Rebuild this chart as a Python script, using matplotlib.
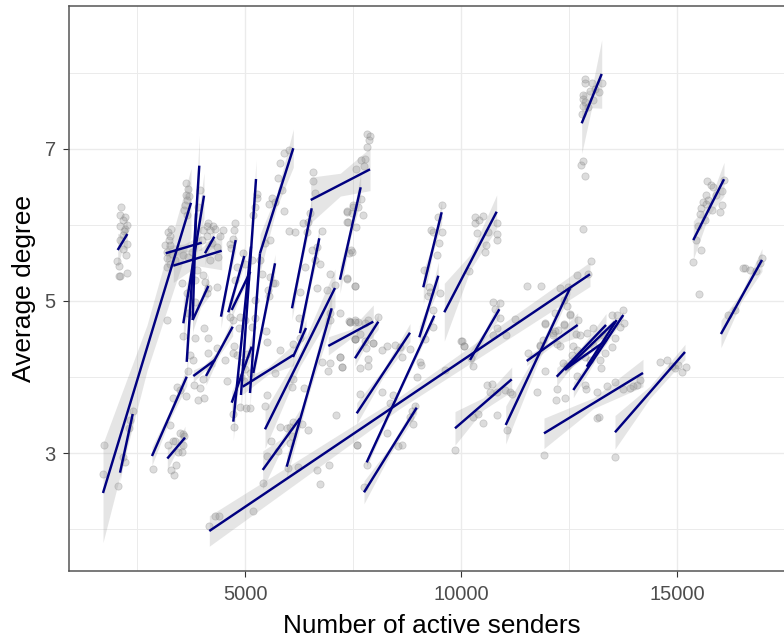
import numpy as np
import matplotlib
matplotlib.use('Agg')
import matplotlib.pyplot as plt

plt.rcParams['font.family'] = ['Liberation Sans', 'DejaVu Sans']

# points, grouped by area (active senders, average degree)
pts_far_left = [(2131,6.23),(2100,6.13),(2216,6.10),(2177,6.06),(2254,6.0),(2100,5.98),(2216,5.95),(2200,5.92),
    (2177,5.87),(2100,5.8),(2254,5.75),(2177,5.68),(2240,5.61),(2038,5.53),(2077,5.46),(2085,5.33),(2254,5.37),(2110,5.33)]
pts_peak_4000 = [(3628,6.55),(3682,6.47),(3628,6.39),(3705,6.38),(3658,6.33),(3605,6.26),(3581,6.2),(3643,6.13),
    (3952,6.46),(3913,6.24),(3280,5.95),(3219,5.91),(3257,5.85),(3242,5.80),(3142,5.73),(3257,5.74),(3196,5.65),
    (3296,5.62),(3180,5.56),(3257,5.49),(3180,5.45),(3373,5.54),(3566,5.60),(3682,5.58),(3759,5.65),(4145,6.02),
    (4106,5.98),(4260,5.98),(4183,5.93),(4029,5.93),(4299,5.95),(4476,5.93),(4415,5.85),(4106,5.85),(3990,5.80),
    (4222,5.76),(4338,5.71),(4376,5.58),(4183,5.54),(4029,5.34),(4067,5.25),(3875,5.41),(3836,5.28),(3527,5.23),
    (3643,5.10),(3836,4.99),(4145,5.17),(4338,5.19),(4106,5.10),(3196,4.75),(4044,4.65),(4145,4.52),(3836,4.52),
    (3550,4.54),(3682,4.84)]
pts_low_left = [(1729,3.11),(1699,2.73),(2046,2.57),(2408,3.55),(2331,3.44),(2316,3.33),(2216,2.88),(2177,2.95),
    (2856,2.79),(3257,3.37),(3219,3.11),(3334,3.16),(3373,3.16),(3280,2.78),(3404,2.84),(3342,2.71),(3489,3.26),
    (3550,3.25),(3581,3.22),(3566,3.11),(3527,3.02),(3450,3.02),(3319,3.73),(3427,3.87),(3489,3.83),(3628,3.75),
    (3898,3.70),(4044,3.72),(3813,3.90),(3952,3.86),(3666,4.08),(4013,3.97),(3797,4.22),(3720,4.29),(4145,4.31),
    (4338,4.38),(4530,4.22),(4569,3.95),(4723,4.31),(4800,4.29),(4723,3.52),(4739,3.34),(4878,3.61),(5017,3.60),
    (5109,3.59),(4160,2.04),(4299,2.17),(4399,2.18),(5171,2.24),(5402,2.61),(5510,2.96),(5588,3.16),(5456,3.62),
    (5495,3.77),(5804,3.34),(5765,3.03),(5996,2.80),(6668,2.78),(6930,2.84),(6729,2.60),(6228,2.82),(6459,3.31),
    (7100,3.50),(7578,3.11),(6112,3.98),(6074,3.87),(5688,4.06),(5804,4.36),(6359,3.86),(6768,4.20),(6961,4.19),
    (7231,4.13),(7192,4.26),(6922,4.08),(6035,3.35),(6112,3.41),(5958,3.33),(6074,3.22),(6305,3.39),(6035,3.13),
    (4900,4.0),(5000,4.1),(4950,4.2),(5050,4.3),(4980,3.95),(5100,4.05)]
pts_mid_left = [(4762,6.03),(4739,5.93),(4723,5.82),(4646,5.75),(4662,5.69),(4955,5.63),(4800,5.45),(4762,5.28),
    (4993,5.49),(5148,5.54),(5263,6.41),(5225,6.24),(5171,6.13),(5263,6.35),(5611,6.35),(5557,6.27),(5688,6.30),
    (5765,6.61),(5804,6.81),(5896,6.94),(6020,6.98),(5842,6.46),(5896,6.18),(5572,5.80),(6012,5.92),(6151,5.90),
    (5456,5.76),(5341,5.54),(5379,5.36),(5649,5.23),(5688,5.23),(5572,5.32),(5557,5.06),(5534,5.15),(4646,4.79),
    (4708,4.75),(4878,4.79),(4993,4.75),(5225,4.77),(5225,5.01),(4854,4.64),(5148,4.66),(5480,4.61),(5495,4.46),
    (4739,4.41),(6575,6.69),(6560,6.58),(6614,6.42),(6498,6.15),(6344,6.03),(6459,6.04),(6768,5.92),(6421,5.91),
    (6652,5.71),(6537,5.67),(6614,5.54),(6382,5.45),(6730,5.49),(6267,5.12),(6652,5.17),(6884,5.15),(6961,5.36),
    (7077,5.21),(7192,4.84),(6243,4.77),(6961,4.84),(6961,4.75),(6112,4.44),(6267,4.51),(7424,4.73),(7540,4.50),
    (7540,4.75),(7655,4.57),(7362,6.17),(7501,6.24),(7385,6.04),(7463,5.65),(7362,5.30),(7540,5.20)]
pts_mid_right = [(7825,7.20),(7886,7.17),(7863,7.12),(7825,7.02),(7771,6.87),(7678,6.85),(7748,6.77),(7562,6.73),
    (7670,6.34),(7616,6.23),(7501,6.26),(7362,6.18),(7462,6.15),(7717,6.13),(7362,6.04),(7562,5.97),(7447,5.67),
    (7408,5.63),(7362,5.29),(7539,5.20),(7408,4.74),(7616,4.73),(7848,4.75),(8079,4.79),(7539,4.50),(7771,4.48),
    (7964,4.45),(9561,6.26),(9468,6.11),(9291,5.93),(9352,5.90),(9545,5.90),(9491,5.76),(9430,5.60),(9136,5.41),
    (9260,5.19),(9275,5.12),(9507,5.10),(9237,5.06),(9352,4.88),(9337,4.66),(9160,4.50),(10317,6.10),(10510,6.12),
    (10317,6.02),(10417,6.06),(10834,6.02),(10356,5.89),(10626,5.91),(10819,5.88),(10834,5.80),(10564,5.73),
    (10549,5.64),(10186,5.40),(10741,4.99),(10896,4.98),(10780,4.90),(10896,4.77),(10819,4.64),(11243,4.76),
    (11027,4.55),(10726,4.55),(9985,4.48),(10062,4.41),(12763,6.79),(12825,6.84),(12863,6.64),(12825,5.95),
    (12994,5.53),(12686,5.34),(12940,5.36),(11528,5.20),(11845,5.20),(12285,5.17),(12478,5.19),(12377,5.01),
    (12439,4.93),(12169,4.84),(11937,4.70),(12130,4.58),(12377,4.70),(12516,4.83),(12709,4.75),(12655,4.56),
    (11822,4.41),(12246,4.62)]
pts_lower_mid = [(7192,4.27),(7231,4.13),(7423,4.73),(7539,4.72),(7771,4.71),(7539,4.50),(7655,4.12),(7832,4.24),
    (7832,4.15),(7964,4.45),(7794,4.38),(8157,4.35),(8272,4.41),(8465,4.42),(8581,4.40),(8812,4.37),(8619,4.26),
    (9044,4.20),(9059,4.16),(8967,4.0),(7655,3.78),(8157,3.80),(8427,3.77),(8349,3.66),(8928,3.62),(8851,3.55),
    (8812,3.48),(8890,3.39),(8272,3.26),(7578,3.11),(8542,3.09),(8619,3.11),(7809,2.85),(7748,2.56),(9623,4.09),
    (10008,4.47),(10062,4.41),(10278,4.15),(10217,4.25),(10587,3.90),(10703,3.91),(10664,3.81),(10819,3.81),
    (11011,3.83),(11127,3.81),(11166,3.78),(10394,3.52),(10834,3.50),(10494,3.40),(9854,3.04),(10278,3.47),
    (11050,3.30),(11937,4.08),(11744,3.81),(11536,4.31),(11822,4.42),(11899,4.49),(12130,4.55),(12207,4.44),
    (12285,4.41),(12169,4.61),(11937,4.71),(12377,4.69),(12516,4.82),(12207,3.85),(12400,3.72),(12192,3.70),
    (12863,3.90),(12886,3.84),(13133,3.81),(13365,3.88),(13558,3.93),(13751,3.84),(13982,3.88),(14059,3.90),
    (13133,3.46),(13195,3.47),(11914,2.98),(13558,2.95),(12593,4.41),(12670,4.36),(12555,4.29),(12362,4.18),
    (12439,4.14),(12748,4.55),(12902,4.58),(13056,4.64),(13288,4.55),(13481,4.82),(13596,4.82),(13735,4.88),
    (13766,4.71),(13673,4.66),(13481,4.39),(13326,4.31),(13210,4.23),(13226,4.12),(12863,4.27),(12670,4.01),
    (12979,4.22),(13056,4.42),(13558,4.51)]
pts_right = [(14600,4.2),(14762,4.22),(14947,4.12),(15108,4.07),(15015,4.16),(14877,4.15),(15200,4.13),(14129,3.96),
    (13900,3.86),(12864,7.92),(12864,7.86),(13018,7.86),(13265,7.86),(13188,7.75),(12979,7.76),(12825,7.71),
    (12810,7.65),(12864,7.62),(12825,7.56),(12787,7.46),(12941,7.55),(13057,7.64),(13095,7.79),(15680,6.58),
    (15773,6.52),(15819,6.50),(16081,6.59),(15665,6.39),(16027,6.44),(15587,6.30),(15719,6.33),(15657,6.27),
    (15541,6.22),(16043,6.26),(15989,6.17),(15526,6.14),(15896,6.39),(15796,6.20),(15642,6.06),(15487,5.98),
    (15549,5.67),(15433,5.80),(15360,5.51),(15500,5.09),(16563,5.43),(16960,5.56),(16680,5.41),(16818,5.39),
    (16331,4.88),(16170,4.81),(16516,5.43),(16910,5.50)]

# fitted lines: start x, start y, end x, end y, then the band half height at start, middle, end
fit_lines = [
    (2046,5.67,2269,5.88,0.22,0.08,0.22),(1706,2.477,3743,6.29,0.65,0.30,0.45),(2100,2.744,2394,3.515,0.12,0.05,0.12),
    (2840,2.963,3644,4.005,0.12,0.06,0.12),(3195,2.93,3604,3.204,0.15,0.05,0.15),(3157,5.627,3991,5.766,0.10,0.05,0.10),
    (3333,5.464,4454,5.66,0.22,0.10,0.25),(3935,6.778,3644,4.2,0.40,0.12,0.30),(4044,6.384,3565,4.707,0.30,0.10,0.30),
    (3859,6.15,3782,4.75,0.30,0.10,0.30),(4282,5.845,4067,5.627,0.15,0.06,0.15),(4144,5.197,3782,4.75,0.15,0.06,0.15),
    (3796,4.014,4299,4.225,0.08,0.04,0.08),(4090,4.014,4708,4.662,0.12,0.05,0.12),(4778,5.80,4437,4.794,0.15,0.05,0.15),
    (4977,5.591,4606,4.851,0.12,0.05,0.12),(5116,5.385,4685,4.882,0.10,0.04,0.10),(5248,6.603,4900,3.765,0.25,0.08,0.25),
    (5132,5.714,4722,3.414,0.25,0.08,0.25),(4685,3.664,5148,4.4,0.15,0.05,0.15),(5109,3.791,5340,5.627,0.20,0.06,0.20),
    (5185,4.054,5688,5.495,0.12,0.05,0.12),(4940,3.874,6111,4.29,0.10,0.05,0.14),(6111,7.007,5340,5.627,0.25,0.09,0.25),
    (6537,6.218,6081,4.904,0.15,0.06,0.15),(6713,5.824,6266,4.576,0.15,0.06,0.15),(6514,6.327,7887,6.73,0.30,0.15,0.28),
    (7671,6.494,7192,5.28,0.18,0.07,0.18),(7076,5.171,5456,3.314,0.25,0.10,0.25),(7000,4.904,5958,2.823,0.20,0.07,0.15),
    (5403,2.78,6266,3.459,0.25,0.07,0.12),(6405,4.645,6104,4.264,0.12,0.05,0.12),(6921,4.409,7963,4.728,0.12,0.06,0.22),
    (8079,4.728,7539,4.247,0.10,0.05,0.10),(8812,4.583,7579,3.524,0.12,0.05,0.14),(9375,4.807,7810,2.88,0.06,0.03,0.06),
    (9468,5.332,9028,4.523,0.18,0.06,0.15),(8968,3.598,7748,2.486,0.08,0.05,0.15),(4167,1.978,12979,5.351,0.20,0.08,0.16),
    (9546,6.166,9120,5.18,0.15,0.06,0.22),(10819,6.173,9606,4.852,0.22,0.10,0.38),(10880,4.891,10201,4.225,0.12,0.05,0.12),
    (9854,3.327,11167,3.971,0.22,0.08,0.16),(11028,3.371,12516,5.167,0.25,0.08,0.08),(11514,4.212,12694,4.685,0.06,0.04,0.16),
    (11914,3.261,14206,4.054,0.20,0.07,0.18),(12208,4.005,13350,4.685,0.12,0.05,0.15),(12593,3.83,13750,4.816,0.10,0.04,0.05),
    (12400,4.093,13558,4.728,0.06,0.03,0.06),(12903,4.137,13597,4.75,0.05,0.03,0.05),(12440,4.116,13366,4.487,0.04,0.02,0.04),
    (13558,3.275,15178,4.33,0.22,0.08,0.10),(12787,7.335,13250,7.983,0.40,0.12,0.45),(15370,5.80,16081,6.6,0.25,0.08,0.22),
    (16010,4.566,16960,5.539,0.18,0.06,0.15),
]

x_major = [5000, 10000, 15000]
x_minor = [2500, 7500, 12500]
y_major = [3, 5, 7]
y_minor = [2, 4, 6, 8]

fig = plt.figure(figsize=(7.84, 6.38), dpi=100)
ax = fig.add_axes([69/784, (638-570.7)/638, 1-69/784, (570.7-6)/638])

all_pts = np.array(pts_far_left + pts_peak_4000 + pts_low_left + pts_mid_left + pts_mid_right + pts_lower_mid + pts_right)
ax.scatter(all_pts[:, 0], all_pts[:, 1], s=27, color='#8c8c8c', alpha=0.3, linewidths=0.6, edgecolors='#7a7a7a', zorder=3)

for x0, y0, x1, y1, w0, wm, w1 in fit_lines:
    xs = np.array([x0, (x0 + x1) / 2, x1])
    ys = np.array([y0, (y0 + y1) / 2, y1])
    ws = np.array([w0, wm, w1])
    ax.fill_between(xs, ys - ws, ys + ws, color='#999999', alpha=0.25, linewidth=0, zorder=4)

for x0, y0, x1, y1, w0, wm, w1 in fit_lines:
    ax.plot([x0, x1], [y0, y1], color='#000080', lw=1.75, solid_capstyle='butt', zorder=5)

ax.set_xlim(919, 17470)
ax.set_ylim(1.456, 8.876)
ax.set_xticks(x_major)
ax.set_xticks(x_minor, minor=True)
ax.set_yticks(y_major)
ax.set_yticks(y_minor, minor=True)
ax.grid(which='major', color='#ebebeb', lw=1.0, zorder=0)
ax.grid(which='minor', color='#ebebeb', lw=0.7, zorder=0)
ax.set_axisbelow(True)
ax.tick_params(which='major', length=4.5, width=0.8, color='#333333', labelsize=14.5, labelcolor='#4d4d4d')
ax.tick_params(axis='x', which='major', pad=6)
ax.tick_params(axis='y', which='major', pad=5)
ax.tick_params(which='minor', length=0)
ax.spines['right'].set_visible(False)
for side in ['top', 'left', 'bottom']:
    ax.spines[side].set_color('#555555')
    ax.spines[side].set_linewidth(1.1)

ax.set_xlabel('Number of active senders', fontsize=18.8, color='black', labelpad=7)
ax.xaxis.label.set_x(0.507)
ax.set_ylabel('Average degree', fontsize=19, color='black', labelpad=6)

fig.savefig('out.png', dpi=100)
